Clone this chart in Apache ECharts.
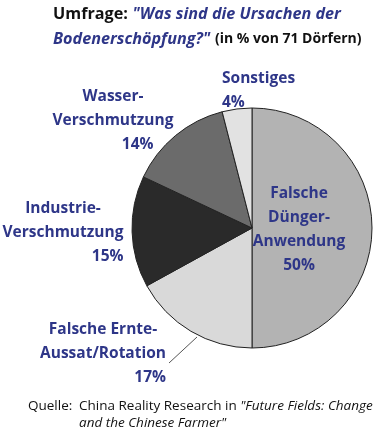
<!DOCTYPE html>
<html><head><meta charset="utf-8">
<script src="https://cdn.jsdelivr.net/npm/echarts@6/dist/echarts.min.js"></script>
<style>html,body{margin:0;padding:0;background:#fff}#c{width:378px;height:433px}</style>
</head><body><div id="c"></div>
<script>
const categories = ['Falsche Dünger-Anwendung', 'Falsche Ernte-Aussat/Rotation', 'Industrie-Verschmutzung', 'Wasser-Verschmutzung', 'Sonstiges'];
const values = [50, 17, 15, 14, 4];
const labelLines = [
  ['Falsche', 'Dünger-', 'Anwendung'],
  ['Falsche Ernte-', 'Aussat/Rotation'],
  ['Industrie-', 'Verschmutzung'],
  ['Wasser-', 'Verschmutzung'],
  ['Sonstiges']
];
const sliceColors = ['#b3b3b3', '#d9d9d9', '#2a2a2a', '#6b6b6b', '#e2e2e2'];
const titleLine1 = ['Umfrage:', '"Was sind die Ursachen der'];
const titleLine2 = ['Bodenerschöpfung?"', '(in % von 71 Dörfern)'];
const sourceLines = ['Quelle:', 'China Reality Research in', '"Future Fields: Change', 'and the Chinese Farmer"'];

const FONT = 'Open Sans';
const BLUE = '#2e3688';
const pctAlign = ['c', 'r', 'r', 'p', 'l'];
// label anchor: [x, y, align]
const labelPos = [
  [299, 182, 'center'],
  [103, 318, 'center'],
  [63, 197, 'center'],
  [113, 85, 'center'],
  [222, 67, 'left']
];

const chart = echarts.init(document.getElementById('c'), null, {renderer: 'canvas'});
const base = {fontFamily: FONT, fontWeight: 'bold', fontSize: 15.5, color: BLUE, lineHeight: 24};
const src = {fontFamily: FONT, fontWeight: 'normal', fontSize: 13.5, color: '#111', lineHeight: 17};
chart.setOption({
  backgroundColor: '#fff',
  animation: false,
  title: [{
    left: 53, top: 2, padding: 0,
    text: '{b|' + titleLine1[0] + '} {q|' + titleLine1[1] + '}\n{q|' + titleLine2[0] + '} {s|' + titleLine2[1] + '}',
    textStyle: {
      fontFamily: FONT, lineHeight: 25,
      rich: {
        b: {fontFamily: FONT, fontWeight: 'bold', fontSize: 16.2, color: '#111', lineHeight: 25},
        q: {fontFamily: FONT, fontWeight: 'bold', fontStyle: 'italic', fontSize: 16.2, color: BLUE, lineHeight: 25},
        s: {fontFamily: FONT, fontWeight: 'bold', fontSize: 14, color: '#111', lineHeight: 25}
      }
    }
  }, {
    left: 28, top: 398, padding: 0,
    text: '{q|' + sourceLines[0] + '}{n|' + sourceLines[1] + ' }{i|' + sourceLines[2] + '}\n{sp|}{i|' + sourceLines[3] + '}',
    textStyle: {
      fontFamily: FONT, fontWeight: 'normal', lineHeight: 17,
      rich: {
        q: Object.assign({}, src, {width: 51}),
        n: src,
        i: Object.assign({}, src, {fontStyle: 'italic'}),
        sp: {width: 51, lineHeight: 17}
      }
    }
  }],
  series: [{
    type: 'pie',
    center: [252, 228],
    radius: [0, 120],
    startAngle: 90,
    clockwise: true,
    avoidLabelOverlap: false,
    label: {
      show: true,
      position: 'outside',
      alignTo: 'none',
      overflow: 'none',
      fontFamily: FONT,
      formatter: function (p) {
        const i = p.dataIndex;
        const lines = labelLines[i].map(function (t) { return '{t|' + t + '}'; });
        lines.push('{' + pctAlign[i] + '|' + p.value + '%}');
        return lines.join('\n');
      },
      rich: {
        t: Object.assign({}, base, {align: 'center'}),
        c: Object.assign({}, base, {align: 'center'}),
        r: Object.assign({}, base, {align: 'right'}),
        l: Object.assign({}, base, {align: 'left'}),
        p: Object.assign({}, base, {align: 'right', padding: [0, 20, 0, 0]})
      }
    },
    labelLine: {show: true, lineStyle: {color: '#555', width: 1}},
    labelLayout: function (params) {
      const i = params.dataIndex;
      const pos = labelPos[i];
      const res = {x: pos[0], y: pos[1], align: pos[2], verticalAlign: 'top', hideOverlap: false};
      if (i === 1) {
        res.labelLinePoints = [[197, 337], [183, 350], [169, 363]];
      }
      return res;
    },
    itemStyle: {borderColor: '#222', borderWidth: 1},
    emphasis: {disabled: true},
    data: values.map(function (v, i) {
      return {value: v, name: categories[i], itemStyle: {color: sliceColors[i]}, labelLine: {show: i === 1}};
    })
  }]
});
</script></body></html>
